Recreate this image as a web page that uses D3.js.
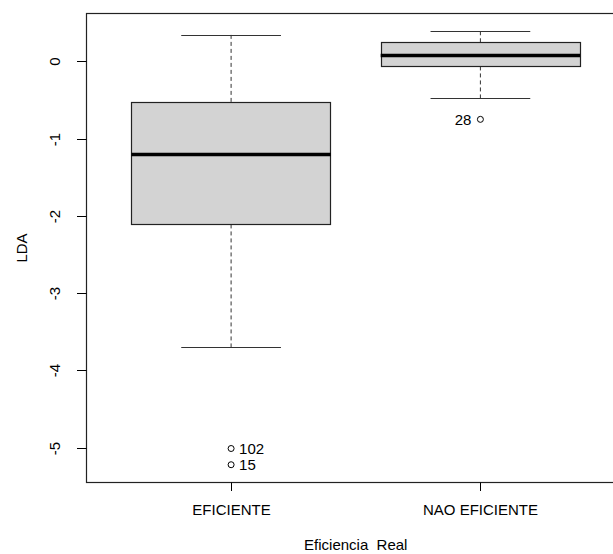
<!DOCTYPE html>
<html><head><meta charset="utf-8">
<script src="https://cdn.jsdelivr.net/npm/d3@7"></script>
<style>
body{margin:0;background:#fff;}
text{font-family:"Liberation Sans",Arial,sans-serif;fill:#000;}
</style></head>
<body><svg id="c" width="613" height="554"></svg>
<script>
const categories = ["EFICIENTE", "NAO EFICIENTE"];
const whiskerLow = [-3.70, -0.48];
const q1 = [-2.11, -0.065];
const medians = [-1.205, 0.078];
const q3 = [-0.53, 0.246];
const whiskerHigh = [0.343, 0.39];
const outlierGroup = [0, 0, 1];
const outlierValue = [-5.01, -5.22, -0.75];
const outlierLabel = ["102", "15", "28"];
const outlierSide = ["right", "right", "left"];
const yTicks = [-5, -4, -3, -2, -1, 0];
const xTitle = "Eficiencia  Real";
const yTitle = "LDA";

const svg = d3.select("#c");
const L = 86.5, R = 625, T = 13.5, B = 482.5;
const x = d3.scaleLinear().domain([0.42, 2.58]).range([L, R]);
const y = d3.scaleLinear().domain([-5.45, 0.62]).range([B, T]);
const bw = 0.8;

const g = svg.append("g");
categories.forEach((c, i) => {
  const cx = x(i + 1);
  const x0 = x(i + 1 - bw / 2), x1 = x(i + 1 + bw / 2);
  const s0 = x(i + 1 - bw / 4), s1 = x(i + 1 + bw / 4);
  // whiskers dashed
  g.append("line").attr("x1", cx).attr("x2", cx).attr("y1", y(whiskerHigh[i])).attr("y2", y(q3[i]))
    .attr("stroke", "#333").attr("stroke-dasharray", "4,3");
  g.append("line").attr("x1", cx).attr("x2", cx).attr("y1", y(q1[i])).attr("y2", y(whiskerLow[i]))
    .attr("stroke", "#333").attr("stroke-dasharray", "4,3");
  // staples
  [whiskerHigh[i], whiskerLow[i]].forEach(v => {
    g.append("line").attr("x1", s0).attr("x2", s1).attr("y1", Math.round(y(v)) + 0.5).attr("y2", Math.round(y(v)) + 0.5)
      .attr("stroke", "#333").attr("stroke-width", 1.2);
  });
  // box
  g.append("rect").attr("x", Math.round(x0) + 0.5).attr("y", Math.round(y(q3[i])) + 0.5)
    .attr("width", Math.round(x1 - x0)).attr("height", Math.round(y(q1[i]) - y(q3[i])))
    .attr("fill", "#d3d3d3").attr("stroke", "#222").attr("stroke-width", 1.2);
  // median
  g.append("line").attr("x1", x0).attr("x2", x1).attr("y1", y(medians[i])).attr("y2", y(medians[i]))
    .attr("stroke", "#000").attr("stroke-width", 3.5);
});

// outliers
outlierValue.forEach((v, k) => {
  const cx = x(outlierGroup[k] + 1), cy = y(v);
  g.append("circle").attr("cx", cx).attr("cy", cy).attr("r", 3)
    .attr("fill", "#fff").attr("stroke", "#000").attr("stroke-width", 1);
  g.append("text").attr("x", outlierSide[k] === "right" ? cx + 8 : cx - 9).attr("y", cy)
    .attr("dy", "0.36em").attr("font-size", 15)
    .attr("text-anchor", outlierSide[k] === "right" ? "start" : "end").text(outlierLabel[k]);
});

// frame
svg.append("rect").attr("x", L).attr("y", T).attr("width", R - L).attr("height", B - T)
  .attr("fill", "none").attr("stroke", "#222").attr("stroke-width", 1.2);

// y axis
const ya = svg.append("g");
yTicks.forEach(t => {
  const yy = Math.round(y(t)) + 0.5;
  ya.append("line").attr("x1", 77).attr("x2", L).attr("y1", yy).attr("y2", yy).attr("stroke", "#000");
  ya.append("text").attr("transform", `translate(60,${yy}) rotate(-90)`).attr("text-anchor", "middle")
    .attr("font-size", 15).text(t === 0 ? "0" : "-" + Math.abs(t));
});
// x axis
const xa = svg.append("g");
categories.forEach((c, i) => {
  const xx = Math.round(x(i + 1)) + 0.5;
  xa.append("line").attr("x1", xx).attr("x2", xx).attr("y1", B).attr("y2", 491).attr("stroke", "#000");
  xa.append("text").attr("x", xx).attr("y", 515).attr("text-anchor", "middle").attr("font-size", 15).text(c);
});
svg.append("text").attr("x", x(1.5)).attr("y", 550).attr("text-anchor", "middle").attr("font-size", 15)
  .attr("xml:space", "preserve").style("white-space", "pre").text(xTitle);
svg.append("text").attr("transform", `translate(27,${(T + B) / 2}) rotate(-90)`).attr("text-anchor", "middle")
  .attr("font-size", 15).text(yTitle);
</script></body></html>
